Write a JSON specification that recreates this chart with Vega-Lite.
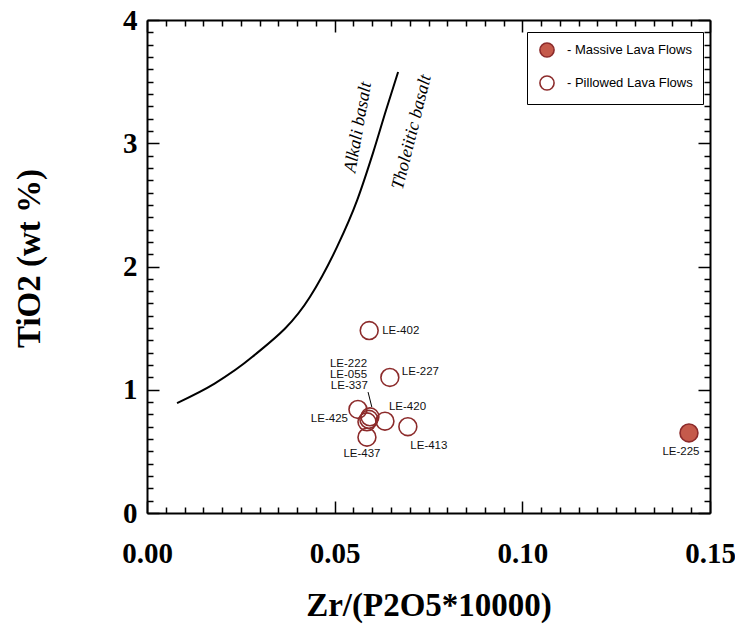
{
  "$schema": "https://vega.github.io/schema/vega-lite/v6.json",
  "width": 563,
  "height": 493,
  "autosize": {"type": "none"},
  "padding": {"left": 147, "top": 20, "right": 25, "bottom": 112},
  "background": "white",
  "config": {
    "view": {"stroke": null},
    "axis": {
      "grid": false,
      "domainColor": "black",
      "domainWidth": 2,
      "tickColor": "black",
      "tickWidth": 1.5,
      "labelFont": "Liberation Serif",
      "labelFontWeight": "bold",
      "labelFontSize": 29,
      "labelColor": "black",
      "labelFlush": false,
      "labelOverlap": false,
      "titleFont": "Liberation Serif",
      "titleFontWeight": "bold",
      "titleFontSize": 33,
      "titleColor": "black"
    },
    "text": {"font": "Liberation Sans", "fontSize": 11.5, "color": "#111", "baseline": "middle"}
  },
  "datasets": {
    "curve": [
      {"zr": 0.0080, "ti": 0.892},
      {"zr": 0.0180, "ti": 1.05},
      {"zr": 0.0280, "ti": 1.265},
      {"zr": 0.0434, "ti": 1.752},
      {"zr": 0.0506, "ti": 2.157},
      {"zr": 0.0560, "ti": 2.539},
      {"zr": 0.0602, "ti": 2.920},
      {"zr": 0.0637, "ti": 3.270},
      {"zr": 0.0669, "ti": 3.578}
    ],
    "leader": [{"zr": 0.0589, "ti": 0.981, "zr2": 0.0599, "ti2": 0.860}],
    "zones": [
      {"label": "Alkali basalt", "zr": 0.0563, "ti": 3.13},
      {"label": "Tholeiitic basalt", "zr": 0.0706, "ti": 3.09}
    ],
    "samples": [
      {"label": "LE-402", "type": "Pillowed Lava Flows", "zr": 0.0592, "ti": 1.48},
      {"label": "LE-227", "type": "Pillowed Lava Flows", "zr": 0.0647, "ti": 1.10},
      {"label": "LE-425", "type": "Pillowed Lava Flows", "zr": 0.0562, "ti": 0.84},
      {"label": "LE-222", "type": "Pillowed Lava Flows", "zr": 0.0594, "ti": 0.78},
      {"label": "LE-337", "type": "Pillowed Lava Flows", "zr": 0.0591, "ti": 0.76},
      {"label": "LE-055", "type": "Pillowed Lava Flows", "zr": 0.0586, "ti": 0.74},
      {"label": "LE-420", "type": "Pillowed Lava Flows", "zr": 0.0634, "ti": 0.745},
      {"label": "LE-413", "type": "Pillowed Lava Flows", "zr": 0.0695, "ti": 0.70},
      {"label": "LE-437", "type": "Pillowed Lava Flows", "zr": 0.0586, "ti": 0.615},
      {"label": "LE-225", "type": "Massive Lava Flows", "zr": 0.1444, "ti": 0.65}
    ]
  },
  "resolve": {"axis": {"x": "independent", "y": "independent"}},
  "layer": [
    {
      "data": {"name": "curve"},
      "mark": {"type": "line", "color": "black", "strokeWidth": 2, "interpolate": "monotone"},
      "encoding": {
        "x": {"field": "zr", "type": "quantitative", "scale": {"domain": [0, 0.15], "nice": false, "zero": false},
          "axis": {"orient": "bottom", "values": [0, 0.05, 0.1, 0.15], "format": ".2f", "ticks": false, "labelPadding": 26,
            "title": "Zr/(P2O5*10000)", "titleY": 102, "titleBaseline": "alphabetic"}},
        "y": {"field": "ti", "type": "quantitative", "scale": {"domain": [0, 4], "nice": false, "zero": false},
          "axis": {"orient": "left", "values": [0, 1, 2, 3, 4], "format": "d", "ticks": false, "labelPadding": 10,
            "title": "TiO2 (wt %)", "titleX": -108, "titleY": 238, "titleAngle": -90, "titleBaseline": "alphabetic"}}
      }
    },
    {
      "data": {"name": "leader"},
      "mark": {"type": "rule", "color": "black", "strokeWidth": 1},
      "encoding": {
        "x": {"field": "zr", "type": "quantitative", "axis": null},
        "y": {"field": "ti", "type": "quantitative", "axis": null},
        "x2": {"field": "zr2"},
        "y2": {"field": "ti2"}
      }
    },
    {
      "data": {"name": "zones"},
      "transform": [{"filter": "datum.label === 'Alkali basalt'"}],
      "mark": {"type": "text", "font": "Liberation Serif", "fontStyle": "italic", "fontSize": 18, "color": "black", "angle": -80, "align": "center", "baseline": "middle"},
      "encoding": {
        "x": {"field": "zr", "type": "quantitative", "axis": null},
        "y": {"field": "ti", "type": "quantitative", "axis": null},
        "text": {"field": "label"}
      }
    },
    {
      "data": {"name": "zones"},
      "transform": [{"filter": "datum.label === 'Tholeiitic basalt'"}],
      "mark": {"type": "text", "font": "Liberation Serif", "fontStyle": "italic", "fontSize": 18, "color": "black", "angle": -76, "align": "center", "baseline": "middle"},
      "encoding": {
        "x": {"field": "zr", "type": "quantitative", "axis": null},
        "y": {"field": "ti", "type": "quantitative", "axis": null},
        "text": {"field": "label"}
      }
    },
    {
      "data": {"name": "samples"},
      "mark": {"type": "circle", "size": 320, "stroke": "#8c2b2b", "strokeWidth": 1.6, "opacity": 1},
      "encoding": {
        "x": {"field": "zr", "type": "quantitative",
          "axis": {"orient": "top", "values": [0, 0.05, 0.1, 0.15], "ticks": false, "labels": false, "title": null}},
        "y": {"field": "ti", "type": "quantitative",
          "axis": {"orient": "right", "values": [0, 1, 2, 3, 4], "ticks": false, "labels": false, "title": null}},
        "fill": {"field": "type", "type": "nominal",
          "scale": {"domain": ["Massive Lava Flows", "Pillowed Lava Flows"], "range": ["#c55a4b", "transparent"]},
          "legend": {"orient": "none", "legendX": 380, "legendY": 12, "title": null, "fillColor": "white", "strokeColor": "black",
            "padding": 10, "rowPadding": 11, "symbolOffset": 2, "labelOffset": 12, "symbolType": "circle", "symbolSize": 200, "symbolStrokeColor": "#8c2b2b", "symbolStrokeWidth": 1.6,
            "labelFont": "Liberation Sans", "labelFontSize": 13, "labelColor": "black", "labelExpr": "'- ' + datum.label", "labelLimit": 220}}
      }
    },
    {
      "data": {"name": "samples"},
      "transform": [{"filter": "datum.label === 'LE-402'"}],
      "mark": {"type": "text", "align": "left", "dx": 13, "dy": 0},
      "encoding": {
        "x": {"field": "zr", "type": "quantitative",
          "axis": {"orient": "top", "offset": -493, "values": [0,0.005,0.01,0.015,0.02,0.025,0.03,0.035,0.04,0.045,0.05,0.055,0.06,0.065,0.07,0.075,0.08,0.085,0.09,0.095,0.1,0.105,0.11,0.115,0.12,0.125,0.13,0.135,0.14,0.145,0.15],
            "tickSize": {"condition": {"test": "abs(datum.value*20 - round(datum.value*20)) < 0.001", "value": 12}, "value": 6},
            "labels": false, "domain": false, "title": null}},
        "y": {"field": "ti", "type": "quantitative",
          "axis": {"orient": "right", "offset": -563, "values": [0,0.1,0.2,0.3,0.4,0.5,0.6,0.7,0.8,0.9,1,1.1,1.2,1.3,1.4,1.5,1.6,1.7,1.8,1.9,2,2.1,2.2,2.3,2.4,2.5,2.6,2.7,2.8,2.9,3,3.1,3.2,3.3,3.4,3.5,3.6,3.7,3.8,3.9,4],
            "tickSize": {"condition": {"test": "abs(datum.value - round(datum.value)) < 0.001", "value": 12}, "value": 6},
            "labels": false, "domain": false, "title": null}},
        "text": {"field": "label"}
      }
    },
    {
      "data": {"name": "samples"},
      "transform": [{"filter": "datum.label === 'LE-227'"}],
      "mark": {"type": "text", "align": "left", "dx": 12, "dy": -5},
      "encoding": {
        "x": {"field": "zr", "type": "quantitative",
          "axis": {"orient": "bottom", "offset": -493, "values": [0,0.005,0.01,0.015,0.02,0.025,0.03,0.035,0.04,0.045,0.05,0.055,0.06,0.065,0.07,0.075,0.08,0.085,0.09,0.095,0.1,0.105,0.11,0.115,0.12,0.125,0.13,0.135,0.14,0.145,0.15],
            "tickSize": {"condition": {"test": "abs(datum.value*20 - round(datum.value*20)) < 0.001", "value": 12}, "value": 6},
            "labels": false, "domain": false, "title": null}},
        "y": {"field": "ti", "type": "quantitative",
          "axis": {"orient": "left", "offset": -563, "values": [0,0.1,0.2,0.3,0.4,0.5,0.6,0.7,0.8,0.9,1,1.1,1.2,1.3,1.4,1.5,1.6,1.7,1.8,1.9,2,2.1,2.2,2.3,2.4,2.5,2.6,2.7,2.8,2.9,3,3.1,3.2,3.3,3.4,3.5,3.6,3.7,3.8,3.9,4],
            "tickSize": {"condition": {"test": "abs(datum.value - round(datum.value)) < 0.001", "value": 12}, "value": 6},
            "labels": false, "domain": false, "title": null}},
        "text": {"field": "label"}
      }
    },
    {
      "data": {"name": "samples"},
      "transform": [{"filter": "datum.label === 'LE-420'"}],
      "mark": {"type": "text", "align": "left", "dx": 4, "dy": -14},
      "encoding": {
        "x": {"field": "zr", "type": "quantitative", "axis": null},
        "y": {"field": "ti", "type": "quantitative", "axis": null},
        "text": {"field": "label"}
      }
    },
    {
      "data": {"name": "samples"},
      "transform": [{"filter": "datum.label === 'LE-413'"}],
      "mark": {"type": "text", "align": "center", "dx": 21, "dy": 19},
      "encoding": {
        "x": {"field": "zr", "type": "quantitative", "axis": null},
        "y": {"field": "ti", "type": "quantitative", "axis": null},
        "text": {"field": "label"}
      }
    },
    {
      "data": {"name": "samples"},
      "transform": [{"filter": "datum.label === 'LE-437'"}],
      "mark": {"type": "text", "align": "center", "dx": -5, "dy": 17},
      "encoding": {
        "x": {"field": "zr", "type": "quantitative", "axis": null},
        "y": {"field": "ti", "type": "quantitative", "axis": null},
        "text": {"field": "label"}
      }
    },
    {
      "data": {"name": "samples"},
      "transform": [{"filter": "datum.label === 'LE-225'"}],
      "mark": {"type": "text", "align": "center", "dx": -8, "dy": 19},
      "encoding": {
        "x": {"field": "zr", "type": "quantitative", "axis": null},
        "y": {"field": "ti", "type": "quantitative", "axis": null},
        "text": {"field": "label"}
      }
    },
    {
      "data": {"name": "samples"},
      "transform": [{"filter": "datum.label === 'LE-425'"}],
      "mark": {"type": "text", "align": "right", "dx": -10, "dy": 10},
      "encoding": {
        "x": {"field": "zr", "type": "quantitative", "axis": null},
        "y": {"field": "ti", "type": "quantitative", "axis": null},
        "text": {"field": "label"}
      }
    },
    {
      "data": {"name": "samples"},
      "transform": [{"filter": "datum.label === 'LE-222'"}],
      "mark": {"type": "text", "align": "left", "dx": -40, "dy": -53},
      "encoding": {
        "x": {"field": "zr", "type": "quantitative", "axis": null},
        "y": {"field": "ti", "type": "quantitative", "axis": null},
        "text": {"field": "label"}
      }
    },
    {
      "data": {"name": "samples"},
      "transform": [{"filter": "datum.label === 'LE-055'"}],
      "mark": {"type": "text", "align": "left", "dx": -37, "dy": -47},
      "encoding": {
        "x": {"field": "zr", "type": "quantitative", "axis": null},
        "y": {"field": "ti", "type": "quantitative", "axis": null},
        "text": {"field": "label"}
      }
    },
    {
      "data": {"name": "samples"},
      "transform": [{"filter": "datum.label === 'LE-337'"}],
      "mark": {"type": "text", "align": "left", "dx": -38, "dy": -33},
      "encoding": {
        "x": {"field": "zr", "type": "quantitative", "axis": null},
        "y": {"field": "ti", "type": "quantitative", "axis": null},
        "text": {"field": "label"}
      }
    }
  ]
}
